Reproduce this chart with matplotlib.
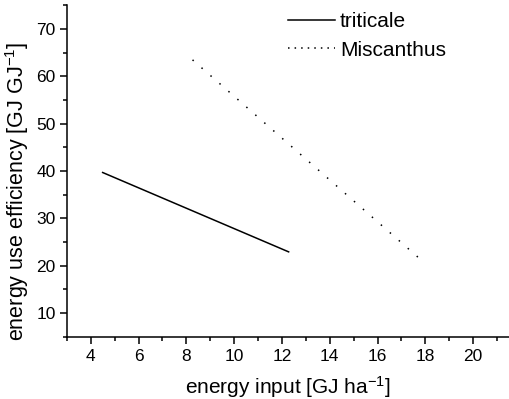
import matplotlib
matplotlib.use("Agg")
import matplotlib.pyplot as plt
from matplotlib.lines import Line2D
from matplotlib.ticker import MultipleLocator

plt.rcParams['font.family'] = ['Liberation Sans', 'DejaVu Sans']
plt.rcParams['mathtext.fontset'] = 'custom'
plt.rcParams['mathtext.rm'] = 'Liberation Sans'
plt.rcParams['mathtext.it'] = 'Liberation Sans'

series_names = ["triticale", "Miscanthus"]
triticale_x = [4.47, 12.31]
triticale_y = [39.74, 22.86]
miscanthus_x = [8.26, 17.72]
miscanthus_y = [63.46, 21.68]

fig = plt.figure(figsize=(5.10, 3.99), dpi=100)
ax = fig.add_axes([0.131, 0.156, 0.867, 0.831])

ax.plot(triticale_x, triticale_y, color='black', lw=1.1, solid_capstyle='butt')
ax.plot(miscanthus_x, miscanthus_y, color='black', lw=1.1,
        linestyle=(0, (1.0, 6.8)))

handles = [Line2D([], [], color='black', lw=1.1),
           Line2D([], [], color='black', lw=1.1, linestyle=(0, (1.0, 3.3)))]
ax.legend(handles, series_names, loc='upper left', bbox_to_anchor=(0.50, 0.979),
          frameon=False, fontsize=15, handlelength=2.25, handletextpad=0.25,
          labelspacing=0.45, borderpad=0, borderaxespad=0)

ax.set_xlim(3, 21.5)
ax.set_ylim(5, 75)
ax.xaxis.set_minor_locator(MultipleLocator(1))
ax.yaxis.set_minor_locator(MultipleLocator(5))
ax.set_xticks([4, 6, 8, 10, 12, 14, 16, 18, 20])
ax.set_yticks([10, 20, 30, 40, 50, 60, 70])

for s in ['top', 'right']:
    ax.spines[s].set_visible(False)
for s in ['left', 'bottom']:
    ax.spines[s].set_linewidth(1.1)

ax.tick_params(which='major', direction='out', length=5, width=1.1, labelsize=12.5, pad=3)
ax.tick_params(axis='x', which='major', pad=4)
ax.tick_params(which='minor', direction='out', length=3, width=1.1)

ax.set_xlabel(r"energy input [GJ ha$^{\mathregular{-1}}$]", fontsize=15, labelpad=7)
ax.set_ylabel(r"energy use efficiency [GJ GJ$^{\mathregular{-1}}$]", fontsize=15.5,
              ha='center', va='center')
ax.yaxis.set_label_coords(-0.113, 0.44)

fig.savefig("out.png", dpi=100)
